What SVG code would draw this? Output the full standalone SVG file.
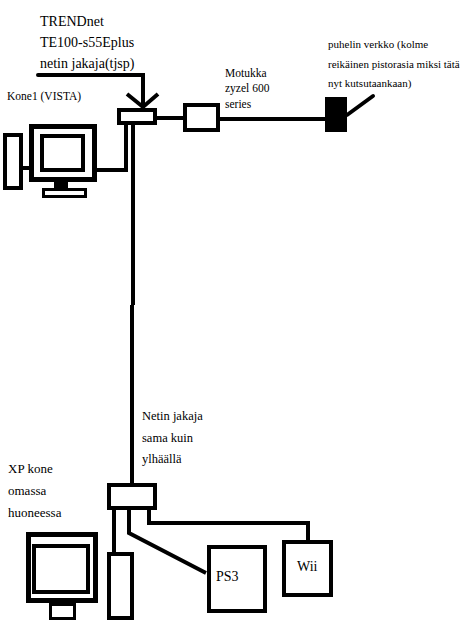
<svg xmlns="http://www.w3.org/2000/svg" width="475" height="625" viewBox="0 0 475 625">
<style>
text{font-family:"Liberation Serif","Times New Roman",serif;fill:#000}
.b{fill:#fff;stroke:#000;stroke-width:4}
.t{fill:#fff;stroke:#000;stroke-width:5}
.s{fill:#fff;stroke:#000;stroke-width:3}
.c{fill:none;stroke:#000;stroke-width:4;stroke-linejoin:miter}
</style>
<rect width="475" height="625" fill="#fff"/>
<g id="connectors">
<polyline class="c" points="38,75 143,75 143,107" stroke-linecap="round"/>
<polyline class="c" points="127,94 143,107 158,94"/>
<polyline class="c" points="97,170 126,170 126,125"/>
<line class="c" x1="23" y1="168" x2="29" y2="168"/>
<line class="c" x1="157" y1="118" x2="183" y2="118"/>
<line class="c" x1="220" y1="119" x2="325" y2="119"/>
<line class="c" x1="347" y1="115" x2="373" y2="96" stroke-linecap="round"/>
<line class="c" x1="133" y1="125" x2="133" y2="305"/>
<line class="c" x1="132" y1="305" x2="132" y2="485"/>
<line class="c" x1="114" y1="510" x2="114" y2="552"/>
<polyline class="c" points="129,510 129,533 206,573"/>
<polyline class="c" points="149,510 149,523 308,523 308,540"/>
</g>
<g id="label-trendnet">
<text x="40" y="26" font-size="14">TRENDnet</text>
<text x="40" y="47" font-size="14">TE100-s55Eplus</text>
<text x="40" y="68" font-size="14">netin jakaja(tjsp)</text>
</g>
<g id="switch-top"><rect class="b" x="119" y="110" width="36" height="13"/></g>
<g id="modem">
<rect class="b" x="185" y="105" width="33" height="25"/>
<text x="225" y="77" font-size="11.5">Motukka</text>
<text x="225" y="92" font-size="11.5">zyzel 600</text>
<text x="225" y="108" font-size="11.5">series</text>
</g>
<g id="phone">
<rect x="325" y="97" width="22" height="35" fill="#000"/>
<text x="328" y="48" font-size="11">puhelin verkko (kolme</text>
<text x="328" y="68" font-size="11">reikäinen pistorasia miksi tätä</text>
<text x="328" y="87" font-size="11">nyt kutsutaankaan)</text>
</g>
<g id="kone1">
<text x="7" y="100" font-size="11.5">Kone1 (VISTA)</text>
<rect class="t" x="31.5" y="126.5" width="63" height="53"/>
<rect class="b" x="42" y="136" width="41" height="34"/>
<rect x="54" y="181" width="14" height="8" fill="#000"/>
<rect class="s" x="43.5" y="189.5" width="42" height="7"/>
<rect class="b" x="5" y="135" width="16" height="53"/>
</g>
<g id="switch-bottom">
<rect class="b" x="109" y="485" width="46" height="23"/>
<text x="142" y="420" font-size="12.5">Netin jakaja</text>
<text x="142" y="442" font-size="12.5">sama kuin</text>
<text x="142" y="463" font-size="12.5">ylhäällä</text>
</g>
<g id="xp">
<text x="8" y="473" font-size="13">XP kone</text>
<text x="8" y="495" font-size="13">omassa</text>
<text x="8" y="517" font-size="13">huoneessa</text>
<rect class="t" x="28.5" y="534.5" width="67" height="66"/>
<rect class="b" x="34" y="546" width="54" height="46"/>
<rect class="s" x="50.5" y="604.5" width="24" height="14"/>
<rect class="b" x="109" y="554" width="23" height="64"/>
</g>
<g id="ps3">
<rect class="b" x="209" y="547" width="56" height="64"/>
<text x="216" y="581" font-size="14">PS3</text>
</g>
<g id="wii">
<rect class="b" x="284" y="542" width="47" height="53"/>
<text x="297" y="571" font-size="14">Wii</text>
</g>
</svg>
